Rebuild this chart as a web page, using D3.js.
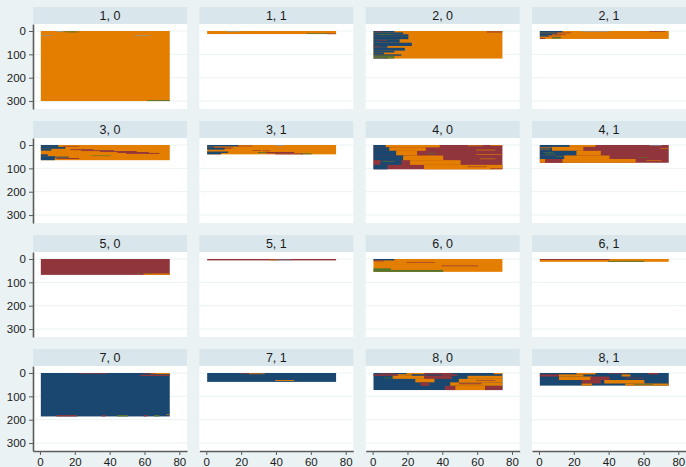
<!DOCTYPE html>
<html>
<head>
<meta charset="utf-8">
<script src="https://cdn.jsdelivr.net/npm/d3@7"></script>
<style>
body { margin: 0; background: #eaf2f3; }
svg { display: block; font-family: "Liberation Sans", Arial, sans-serif; }
</style>
</head>
<body>
<div id="wrapper"></div>
<script>
// panels, row by row (group, sex)
const panelLabels = ['1, 0', '1, 1', '2, 0', '2, 1', '3, 0', '3, 1', '4, 0', '4, 1',
	'5, 0', '5, 1', '6, 0', '6, 1', '7, 0', '7, 1', '8, 0', '8, 1'];
const sequenceCounts = [300, 13, 118, 34, 65, 40, 104, 76, 68, 6, 55, 12, 186, 38, 73, 54];
const yTicks = [0, 100, 200, 300];
const xTicks = [0, 20, 40, 60, 80];

// spells: [firstRow, lastRow, firstMonth, lastMonth, state]
// state 1 navy, 2 maroon, 3 green, 4 orange, 5 teal
const spells_1_0 = [[0,300,1,74,4],[1,4,10,13,5],[2,5,14,20,3],[3,5,17,22,3],[19,21,1,6,5],[19,21,55,62,5],[296,300,62,74,3]];
const spells_1_1 = [[0,13,1,74,4],[0,2,12,19,5],[10,13,58,70,3],[11,13,70,74,2]];
const spells_2_0 = [[0,118,1,74,4],[0,6,1,12,1],[0,2,2,5,2],[2,6,66,74,2],[6,14,1,17,1],[14,22,1,20,1],[14,17,4,10,3],
	[22,35,1,20,1],[35,50,1,15,1],[40,42,3,8,2],[50,64,1,22,1],[64,72,1,8,1],[64,67,1,4,2],[72,84,1,18,1],
	[84,92,1,12,1],[92,100,1,6,1],[100,106,1,16,1],[106,114,1,12,3],[114,118,1,8,1],[114,118,8,12,3]];
const spells_2_1 = [[0,34,1,74,4],[0,6,1,13,1],[6,12,1,10,1],[12,18,1,7,1],[18,24,1,5,1],[7,9,10,18,2],[13,15,8,15,2],
	[20,22,5,12,2],[26,32,8,12,3],[30,34,1,3,2],[1,2,25,40,5],[1,3,64,72,2]];
const spells_3_0 = [[0,65,1,74,4],[0,8,1,10,1],[8,16,1,14,1],[16,24,1,6,1],[4,6,14,22,2],[18,22,18,30,2],[22,26,24,42,2],
	[26,30,35,55,2],[30,34,45,62,2],[34,38,50,68,2],[40,48,1,4,1],[48,65,1,8,1],[50,54,8,16,1],[56,60,10,22,2],[45,47,30,40,3]];
const spells_3_1 = [[0,40,1,74,4],[0,6,1,18,1],[3,5,18,26,2],[6,12,1,4,1],[8,10,5,15,2],[12,20,1,10,1],[14,16,10,14,2],
	[22,24,27,31,2],[24,26,33,36,2],[28,34,1,12,1],[30,34,30,35,3],[30,36,35,50,2],[34,40,1,8,1],[36,40,40,55,2],
	[36,40,55,60,3],[0,1,40,44,5]];
const spells_4_0 = [[0,104,1,74,2],[0,10,1,8,1],[0,10,8,38,4],[2,5,55,63,4],[0,3,68,74,4],[10,25,1,10,1],[10,25,10,30,4],
	[20,23,60,70,4],[25,45,1,14,1],[25,45,14,25,4],[34,36,32,36,3],[40,42,60,74,4],[45,65,1,18,1],[45,65,18,40,4],
	[58,60,62,70,4],[65,85,1,5,2],[65,85,5,16,1],[65,85,22,50,4],[70,72,6,12,3],[85,104,1,8,1],[85,104,30,74,4],
	[92,94,55,65,2],[100,102,68,74,2]];
const spells_4_1 = [[0,76,1,74,2],[0,8,1,18,1],[0,8,18,32,4],[0,1,64,70,5],[8,25,1,8,1],[10,12,1,8,4],[16,18,1,6,4],
	[8,25,8,25,4],[14,16,70,74,4],[25,45,1,22,1],[30,32,3,8,3],[38,40,4,9,3],[25,45,22,35,4],[45,60,1,15,1],
	[48,50,10,14,3],[45,60,15,40,4],[52,54,58,62,3],[60,76,1,4,4],[60,76,4,14,2],[60,76,14,55,4],[66,68,62,70,4]];
const spells_5_0 = [[0,68,1,74,2],[62,68,60,74,4],[60,62,56,57,3],[61,63,62,63,3]];
const spells_5_1 = [[0,6,1,74,2],[3,6,37,40,4],[3,6,40,48,5]];
const spells_6_0 = [[0,55,1,74,4],[0,6,1,12,1],[6,10,1,6,2],[14,16,20,35,2],[28,31,40,60,2],[40,55,1,10,3],[47,55,10,40,3]];
const spells_6_1 = [[0,12,1,74,4],[0,4,1,40,2],[8,12,40,60,3]];
const spells_7_0 = [[0,186,1,74,1],[0,3,23,38,2],[0,5,64,74,4],[8,13,58,74,2],[2,4,60,66,2],[180,186,10,21,2],
	[180,186,45,50,3],[180,186,66,68,3],[180,186,36,37,2],[180,186,60,61,2],[176,179,73,74,4]];
const spells_7_1 = [[0,38,1,74,1],[0,3,20,30,2],[2,5,25,33,4],[30,34,40,50,4]];
const spells_8_0 = [[0,73,1,74,1],[0,5,20,30,4],[0,5,30,45,2],[0,5,70,74,4],[1,3,5,12,2],[5,12,1,15,2],[5,12,15,22,4],
	[7,9,28,40,2],[5,12,40,48,2],[12,25,12,30,4],[12,25,30,45,2],[12,25,55,74,4],[20,22,7,12,3],[25,40,25,35,4],
	[25,40,50,74,4],[30,32,60,70,2],[40,55,28,32,2],[40,55,45,74,4],[44,48,50,62,2],[55,73,42,48,2],[55,73,48,65,4],
	[55,73,65,74,2]];
const spells_8_1 = [[0,54,1,74,1],[0,6,22,32,4],[0,6,63,68,2],[1,3,40,50,2],[6,15,1,12,2],[6,15,12,25,4],[6,15,48,52,4],
	[15,30,12,30,4],[15,30,30,40,2],[20,22,50,60,2],[30,45,25,35,2],[30,45,38,60,4],[45,54,25,30,4],[45,54,50,74,4],
	[48,51,55,65,3]];

const panelSpells = [spells_1_0, spells_1_1, spells_2_0, spells_2_1, spells_3_0, spells_3_1, spells_4_0, spells_4_1,
	spells_5_0, spells_5_1, spells_6_0, spells_6_1, spells_7_0, spells_7_1, spells_8_0, spells_8_1];

const stateColor = { 1: '#1a476f', 2: '#90353b', 3: '#55752f', 4: '#e37e00', 5: '#7fa0b4' };

const dims = {
	width: 686,
	height: 467,
	panelW: 154,
	headerH: 17,
	plotH: 85,
	colStep: 166.33,
	rowStep: 114,
	left: 33,
	top: 7
};

const x = d3.scaleLinear().domain([ -4, 84.4 ]).range([ 0, dims.panelW ]);
const y = d3.scaleLinear().domain([ -30, 334 ]).range([ 0, dims.plotH ]);

const svg = d3.select('#wrapper').append('svg').attr('width', dims.width).attr('height', dims.height);
svg.append('rect').attr('width', dims.width).attr('height', dims.height).attr('fill', '#eaf2f3');

panelLabels.forEach((label, i) => {
	const col = i % 4;
	const row = Math.floor(i / 4);
	const px = dims.left + col * dims.colStep;
	const py = dims.top + row * dims.rowStep;

	const panel = svg.append('g').attr('transform', `translate(${px}, ${py})`);

	// header strip
	panel.append('rect').attr('width', dims.panelW).attr('height', dims.headerH).attr('fill', '#d9e6eb');
	panel
		.append('text')
		.attr('x', dims.panelW / 2)
		.attr('y', 13)
		.attr('text-anchor', 'middle')
		.attr('font-size', 12.5)
		.attr('fill', '#1a1a1a')
		.text(label);

	const bounds = panel.append('g').attr('transform', `translate(0, ${dims.headerH})`);
	bounds.append('rect').attr('width', dims.panelW).attr('height', dims.plotH).attr('fill', '#fff');

	bounds
		.selectAll('line.grid')
		.data(yTicks)
		.join('line')
		.attr('class', 'grid')
		.attr('x1', 0)
		.attr('x2', dims.panelW)
		.attr('y1', (d) => y(d))
		.attr('y2', (d) => y(d))
		.attr('stroke', '#eaf2f3')
		.attr('stroke-width', 1);

	// sequences
	bounds
		.selectAll('rect.spell')
		.data(panelSpells[i])
		.join('rect')
		.attr('class', 'spell')
		.attr('x', (d) => x(d[2] - 0.5))
		.attr('width', (d) => x(d[3] + 0.5) - x(d[2] - 0.5))
		.attr('y', (d) => y(d[0]))
		.attr('height', (d) => Math.max(y(d[1]) - y(d[0]), 0.6))
		.attr('fill', (d) => stateColor[d[4]]);

	if (col === 0) {
		const yAxis = bounds.append('g').call(d3.axisLeft(y).tickValues(yTicks).tickSize(4).tickSizeOuter(0));
		yAxis.select('.domain').attr('stroke', '#5c5c5c').attr('stroke-width', 1.6);
		yAxis.selectAll('.tick line').attr('stroke', '#5c5c5c');
		yAxis.selectAll('.tick text').attr('font-size', 11.5).attr('fill', '#1a1a1a').attr('font-family', null);
	}
	if (row === 3) {
		const xAxis = bounds
			.append('g')
			.attr('transform', `translate(0, ${dims.plotH})`)
			.call(d3.axisBottom(x).tickValues(xTicks).tickSize(4).tickSizeOuter(0));
		xAxis.select('.domain').attr('stroke', '#5c5c5c').attr('stroke-width', 1.6);
		xAxis.selectAll('.tick line').attr('stroke', '#5c5c5c');
		xAxis.selectAll('.tick text').attr('font-size', 11.5).attr('fill', '#1a1a1a').attr('font-family', null);
	}
});
</script>
</body>
</html>
